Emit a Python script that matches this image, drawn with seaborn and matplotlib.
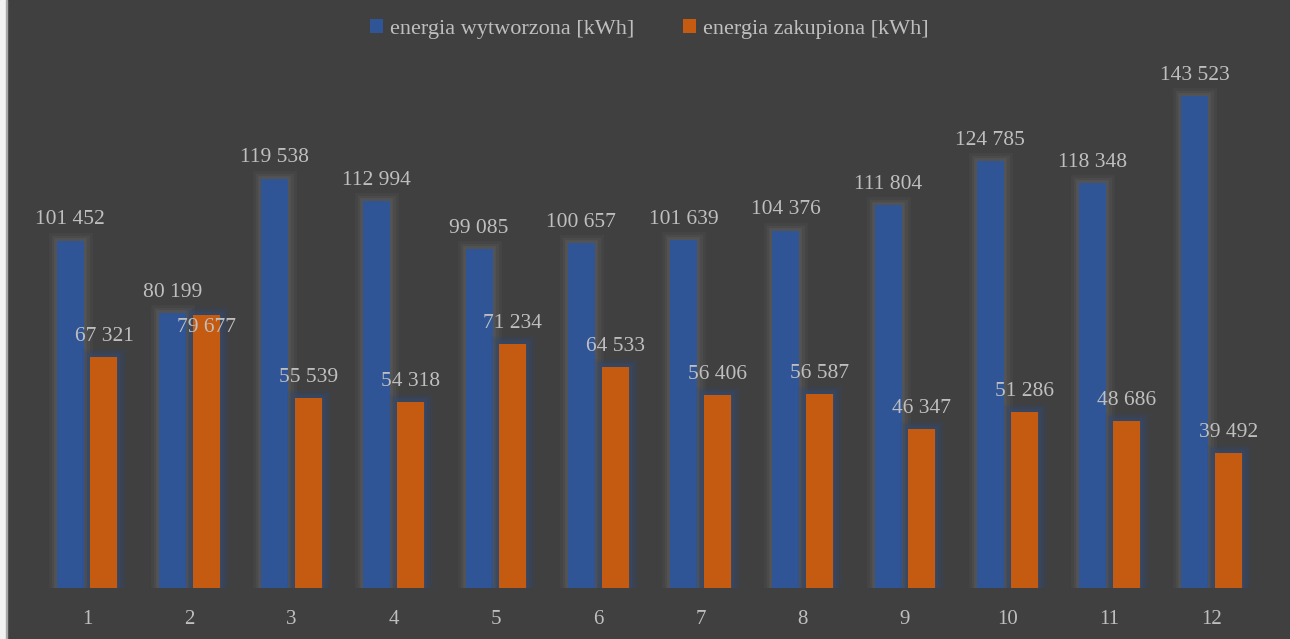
import pandas as pd
import numpy as np
import matplotlib.pyplot as plt
import matplotlib.patheffects as pe
import seaborn as sns

months = ['1', '2', '3', '4', '5', '6', '7', '8', '9', '10', '11', '12']
produced = [101452, 80199, 119538, 112994, 99085, 100657, 101639, 104376, 111804, 124785, 118348, 143523]
bought = [67321, 79677, 55539, 54318, 71234, 64533, 56406, 56587, 46347, 51286, 48686, 39492]
series = ['energia wytworzona [kWh]', 'energia zakupiona [kWh]']

bg = '#404040'
txt = '#bfbfbf'
colors = ['#2F5597', '#C55A11']

df = pd.DataFrame({
	'month': months * 2,
	'value': produced + bought,
	'series': [series[0]] * 12 + [series[1]] * 12,
})

sns.set_style('dark')
plt.rcParams['font.family'] = ['Liberation Serif', 'DejaVu Serif']

fig = plt.figure(figsize=(12.9, 6.39), dpi=100, facecolor=bg)
ax = fig.add_axes([0.0279, 0.0798, 0.951, 0.8576])
ax.set_facecolor(bg)

sns.barplot(data=df, x='month', y='value', hue='series', palette=colors,
			width=0.66, gap=0.2, ax=ax, saturation=1, edgecolor='none')

# soft glow around bars
glows = ['#5c5c5c', '#34496e']
for cont, g in zip(ax.containers, glows):
	for p in cont:
		p.set_path_effects([
			pe.Stroke(linewidth=12, foreground=g, alpha=0.2),
			pe.Stroke(linewidth=8, foreground=g, alpha=0.3),
			pe.Stroke(linewidth=4, foreground=g, alpha=0.5),
			pe.Normal()])

# data labels
fmt = lambda v: f'{v:,}'.replace(',', ' ')
ax.bar_label(ax.containers[0], labels=[fmt(v) for v in produced], padding=8,
			 color=txt, fontsize=15.5)
lbls = ax.bar_label(ax.containers[1], labels=[fmt(v) for v in bought], padding=8,
					color=txt, fontsize=15.5)
lbls[1].set_position((0, -16))

ax.set_ylim(0, 160000)
ax.set_xlim(-0.5, 11.5)
ax.set_yticks([])
ax.set_xlabel('')
ax.set_ylabel('')
ax.tick_params(axis='x', colors=txt, labelsize=15, length=0, pad=16)
for s in ax.spines.values():
	s.set_visible(False)
ax.grid(False)

ax.legend(loc='upper center', bbox_to_anchor=(0.5, 1.075), ncol=2, frameon=False,
		  fontsize=16, labelcolor=txt, handlelength=0.6, handleheight=0.6,
		  handletextpad=0.3, columnspacing=2.2)

# thin light strip on the left edge
fig.patches.append(plt.Rectangle((0, 0), 0.0045, 1, transform=fig.transFigure,
								 color='#f2f2f2', zorder=10))
fig.patches.append(plt.Rectangle((0.0045, 0), 0.0012, 1, transform=fig.transFigure,
								 color='#a6a6a6', zorder=10))

plt.savefig('out.png', dpi=100, facecolor=bg)
